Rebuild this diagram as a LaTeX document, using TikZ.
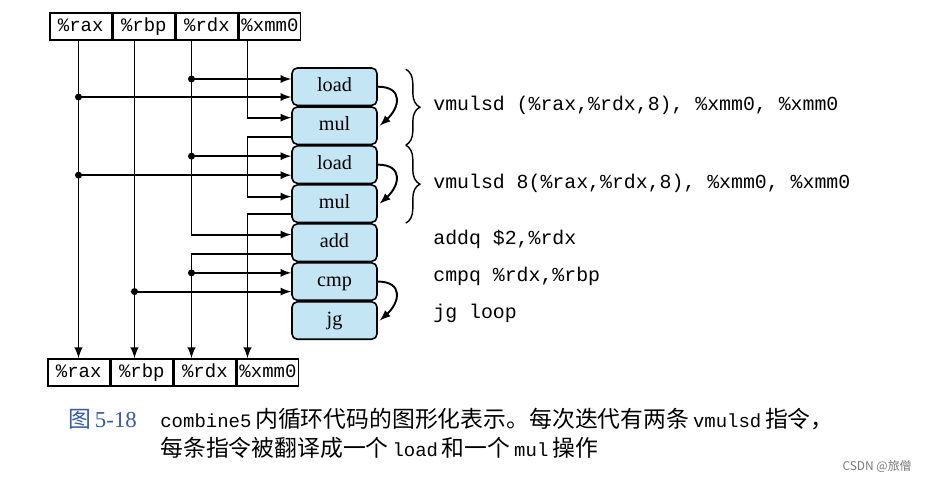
\documentclass[tikz,border=0pt]{standalone}
\usepackage{fontspec}
\setmainfont{Liberation Serif}
\setmonofont{Liberation Mono}
\newfontfamily\cjk{Noto Sans CJK SC}
\usetikzlibrary{positioning,calc,decorations.pathreplacing}
\definecolor{opblue}{RGB}{196,229,244}
\definecolor{capblue}{RGB}{52,92,168}
\definecolor{markgray}{RGB}{120,120,120}
\newcommand{\cjtxt}[1]{{\cjk\fontsize{13}{15}\selectfont #1}}
\newcommand{\tttxt}[1]{{\ttfamily\fontsize{10.8}{12}\selectfont #1}}

\begin{document}
\begin{tikzpicture}[
 x=0.02cm, y=-0.02cm,
 reg/.style={draw, line width=0.9pt, minimum width=1.23cm, minimum height=0.54cm, inner sep=0pt, text height=1.5ex, text depth=0.3ex, font=\ttfamily\fontsize{10.8}{12}\selectfont},
 op/.style={draw, line width=0.9pt, fill=opblue, rounded corners=3pt, minimum width=1.7cm, minimum height=0.748cm, inner sep=0pt, text height=1.6ex, text depth=0.4ex, font=\fontsize{11.5}{13}\selectfont},
 arrow/.style={->, >=latex, line width=1.1pt},
 dot/.style={circle, fill, inner sep=0pt, minimum size=4pt},
 brace/.style={decorate, decoration={brace, amplitude=8pt}, line width=0.8pt},
 instr/.style={anchor=west, inner sep=0pt, font=\ttfamily\fontsize{11.3}{13}\selectfont},
 captext/.style={anchor=west, inner sep=0pt, font=\fontsize{13}{15}\selectfont}
]
\useasboundingbox (0,0) rectangle (927,480);

% Registers (top)
\node[reg] (rax) at (80.75,26.5) {\%rax};
\node[reg, right=0pt of rax] (rbp) {\%rbp};
\node[reg, right=0pt of rbp] (rdx) {\%rdx};
\node[reg, right=0pt of rdx] (xmm) {\%xmm0};

% Registers (bottom)
\node[reg] (raxb) at (78.75,372.5) {\%rax};
\node[reg, right=0pt of raxb] (rbpb) {\%rbp};
\node[reg, right=0pt of rbpb] (rdxb) {\%rdx};
\node[reg, right=0pt of rdxb] (xmmb) {\%xmm0};

% Register columns
\coordinate (crax) at (78.5,0);
\coordinate (crbp) at (134.5,0);
\coordinate (crdx) at (191.5,0);
\coordinate (cxmm) at (247.5,0);

% Operations
\node[op] (load1) at (334.5,86.7) {load};
\node[op, below=0pt of load1] (mul1) {mul};
\node[op, below=0pt of mul1] (load2) {load};
\node[op, below=0pt of load2] (mul2) {mul};
\node[op, below=0pt of mul2] (add) {add};
\node[op, below=0pt of add] (cmp) {cmp};
\node[op, below=0pt of cmp] (jg) {jg};

% Ports
\coordinate (l1a) at ($(load1.west)+(0,-7.7)$);
\coordinate (l1b) at ($(load1.west)+(0,10.3)$);
\coordinate (m1in) at ($(mul1.west)+(0,-8)$);
\coordinate (m1out) at ($(mul1.west)+(0,11)$);
\coordinate (l2a) at ($(load2.west)+(0,-8.5)$);
\coordinate (l2b) at ($(load2.west)+(0,10.5)$);
\coordinate (m2in) at ($(mul2.west)+(0,-7)$);
\coordinate (m2out) at ($(mul2.west)+(0,10)$);
\coordinate (addin) at ($(add.west)+(0,-8)$);
\coordinate (addout) at ($(add.west)+(0,11)$);
\coordinate (cmpa) at ($(cmp.west)+(0,-8.7)$);
\coordinate (cmpb) at ($(cmp.west)+(0,10)$);

% Columns
\draw[arrow] (crax |- rax.south) -- (crax |- raxb.north);
\draw[arrow] (crbp |- rbp.south) -- (crbp |- rbpb.north);
\draw[arrow] (crdx |- rdx.south) |- (addin);
\draw[arrow] (addout) -| (crdx |- rdxb.north);
\draw[arrow] (cxmm |- xmm.south) |- (m1in);
\draw[arrow] (m1out) -- (cxmm |- m1out) |- (m2in);
\draw[arrow] (m2out) -| (cxmm |- xmmb.north);

% Taps
\node[dot] (t1) at (crdx |- l1a) {};
\node[dot] (t2) at (crax |- l1b) {};
\node[dot] (t3) at (crdx |- l2a) {};
\node[dot] (t4) at (crax |- l2b) {};
\node[dot] (t5) at (crdx |- cmpa) {};
\node[dot] (t6) at (crbp |- cmpb) {};
\draw[arrow] (t1.center) -- (l1a);
\draw[arrow] (t2.center) -- (l1b);
\draw[arrow] (t3.center) -- (l2a);
\draw[arrow] (t4.center) -- (l2b);
\draw[arrow] (t5.center) -- (cmpa);
\draw[arrow] (t6.center) -- (cmpb);

% Dependencies
\draw[arrow] (load1.east) .. controls +(26,0) and +(20,-18) .. ($(mul1.east)+(2,0)$);
\draw[arrow] (load2.east) .. controls +(26,0) and +(20,-18) .. ($(mul2.east)+(2,0)$);
\draw[arrow] (cmp.east) .. controls +(26,0) and +(20,-18) .. ($(jg.east)+(2,0)$);

% Braces
\draw[brace] ($(load1.north east)+(28,2)$) -- ($(mul1.south east)+(28,0)$);
\draw[brace] ($(load2.north east)+(28,0)$) -- ($(mul2.south east)+(28,0)$);

% Instructions
\node[instr] (i1) at (433,105) {vmulsd (\%rax,\%rdx,8), \%xmm0, \%xmm0};
\node[instr] (i2) at (433,183) {vmulsd 8(\%rax,\%rdx,8), \%xmm0, \%xmm0};
\node[instr] (i3) at (433,239) {addq \$2,\%rdx};
\node[instr] (i4) at (433,276) {cmpq \%rdx,\%rbp};
\node[instr] (i5) at (433,313) {jg loop};

% Caption
\node[captext, text=capblue] (fig) at (68,419) {{\cjk 图}\,5-18};
\node[captext] (cap1) at (160,419) {\tttxt{combine5}\,\cjtxt{内循环代码的图形化表示。每次迭代有两条}\,\tttxt{vmulsd}\,\cjtxt{指令，}};
\node[captext] (cap2) at (160,448) {\cjtxt{每条指令被翻译成一个}\,\tttxt{load}\,\cjtxt{和一个}\,\tttxt{mul}\,\cjtxt{操作}};
\node[anchor=east, inner sep=0pt, text=markgray, font=\cjk\fontsize{6.8}{8}\selectfont] (mark) at (912,466) {CSDN @旅僧};

\end{tikzpicture}
\end{document}
